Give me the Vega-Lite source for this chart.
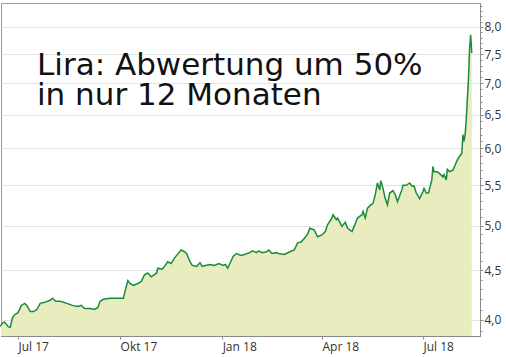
{
  "$schema": "https://vega.github.io/schema/vega-lite/v6.json",
  "width": 479,
  "height": 333,
  "autosize": {"type": "none"},
  "padding": {"left": 1, "top": 3, "right": 26, "bottom": 21},
  "background": "white",
  "config": {
    "view": {"stroke": "#9a9a9a", "strokeWidth": 1},
    "axis": {"labelFont": "Open Sans", "labelFontSize": 12, "labelColor": "#333333", "domainColor": "#8a8a8a", "tickColor": "#8a8a8a"}
  },
  "title": {
    "text": ["Lira: Abwertung um 50%", "in nur 12 Monaten"],
    "anchor": "start",
    "frame": "group",
    "font": "DejaVu Sans",
    "fontSize": 31,
    "fontWeight": "normal",
    "color": "#111111",
    "lineHeight": 30,
    "offset": 0,
    "baseline": "top",
    "dx": 36,
    "dy": 109
  },
  "data": {"values": [
    {"date": "2017-06-15", "v": 3.94}, {"date": "2017-06-17", "v": 3.97}, {"date": "2017-06-19", "v": 3.98},
    {"date": "2017-06-22", "v": 3.94}, {"date": "2017-06-24", "v": 3.93}, {"date": "2017-06-26", "v": 4.02},
    {"date": "2017-06-28", "v": 4.05}, {"date": "2017-07-01", "v": 4.07}, {"date": "2017-07-04", "v": 4.14},
    {"date": "2017-07-07", "v": 4.16}, {"date": "2017-07-09", "v": 4.14}, {"date": "2017-07-12", "v": 4.08},
    {"date": "2017-07-15", "v": 4.08}, {"date": "2017-07-18", "v": 4.10}, {"date": "2017-07-21", "v": 4.16},
    {"date": "2017-07-25", "v": 4.17}, {"date": "2017-07-30", "v": 4.19}, {"date": "2017-08-01", "v": 4.21},
    {"date": "2017-08-04", "v": 4.18}, {"date": "2017-08-08", "v": 4.18}, {"date": "2017-08-14", "v": 4.16},
    {"date": "2017-08-19", "v": 4.14}, {"date": "2017-08-24", "v": 4.13}, {"date": "2017-08-27", "v": 4.14},
    {"date": "2017-08-30", "v": 4.11}, {"date": "2017-09-04", "v": 4.11}, {"date": "2017-09-08", "v": 4.10},
    {"date": "2017-09-11", "v": 4.12}, {"date": "2017-09-13", "v": 4.18}, {"date": "2017-09-16", "v": 4.20},
    {"date": "2017-09-22", "v": 4.21}, {"date": "2017-09-29", "v": 4.21}, {"date": "2017-10-04", "v": 4.21},
    {"date": "2017-10-05", "v": 4.26}, {"date": "2017-10-08", "v": 4.39}, {"date": "2017-10-10", "v": 4.36},
    {"date": "2017-10-13", "v": 4.34}, {"date": "2017-10-17", "v": 4.36}, {"date": "2017-10-20", "v": 4.38},
    {"date": "2017-10-23", "v": 4.45}, {"date": "2017-10-26", "v": 4.47}, {"date": "2017-10-29", "v": 4.43},
    {"date": "2017-11-03", "v": 4.47}, {"date": "2017-11-04", "v": 4.52}, {"date": "2017-11-08", "v": 4.51},
    {"date": "2017-11-10", "v": 4.54}, {"date": "2017-11-13", "v": 4.59}, {"date": "2017-11-16", "v": 4.57},
    {"date": "2017-11-19", "v": 4.63}, {"date": "2017-11-23", "v": 4.69}, {"date": "2017-11-25", "v": 4.72},
    {"date": "2017-11-28", "v": 4.70}, {"date": "2017-11-30", "v": 4.68}, {"date": "2017-12-03", "v": 4.59},
    {"date": "2017-12-05", "v": 4.55}, {"date": "2017-12-09", "v": 4.54}, {"date": "2017-12-12", "v": 4.58},
    {"date": "2017-12-14", "v": 4.54}, {"date": "2017-12-17", "v": 4.55}, {"date": "2017-12-21", "v": 4.56},
    {"date": "2017-12-25", "v": 4.55}, {"date": "2017-12-29", "v": 4.57}, {"date": "2018-01-02", "v": 4.55},
    {"date": "2018-01-04", "v": 4.56}, {"date": "2018-01-06", "v": 4.52}, {"date": "2018-01-11", "v": 4.65},
    {"date": "2018-01-14", "v": 4.68}, {"date": "2018-01-18", "v": 4.66}, {"date": "2018-01-21", "v": 4.67},
    {"date": "2018-01-26", "v": 4.69}, {"date": "2018-01-28", "v": 4.71}, {"date": "2018-02-01", "v": 4.69},
    {"date": "2018-02-03", "v": 4.71}, {"date": "2018-02-06", "v": 4.69}, {"date": "2018-02-10", "v": 4.70},
    {"date": "2018-02-12", "v": 4.72}, {"date": "2018-02-15", "v": 4.68}, {"date": "2018-02-19", "v": 4.69},
    {"date": "2018-02-21", "v": 4.68}, {"date": "2018-02-26", "v": 4.67}, {"date": "2018-03-03", "v": 4.70},
    {"date": "2018-03-07", "v": 4.72}, {"date": "2018-03-10", "v": 4.80}, {"date": "2018-03-13", "v": 4.81},
    {"date": "2018-03-16", "v": 4.85}, {"date": "2018-03-19", "v": 4.90}, {"date": "2018-03-21", "v": 4.97},
    {"date": "2018-03-23", "v": 4.96}, {"date": "2018-03-25", "v": 4.95}, {"date": "2018-03-28", "v": 4.87},
    {"date": "2018-04-01", "v": 4.89}, {"date": "2018-04-04", "v": 4.93}, {"date": "2018-04-06", "v": 5.01},
    {"date": "2018-04-10", "v": 5.09}, {"date": "2018-04-11", "v": 5.13}, {"date": "2018-04-14", "v": 5.07},
    {"date": "2018-04-15", "v": 5.09}, {"date": "2018-04-19", "v": 4.99}, {"date": "2018-04-22", "v": 5.04},
    {"date": "2018-04-24", "v": 4.97}, {"date": "2018-04-28", "v": 4.93}, {"date": "2018-04-30", "v": 4.99},
    {"date": "2018-05-03", "v": 5.09}, {"date": "2018-05-07", "v": 5.13}, {"date": "2018-05-08", "v": 5.17},
    {"date": "2018-05-10", "v": 5.09}, {"date": "2018-05-12", "v": 5.21}, {"date": "2018-05-15", "v": 5.25},
    {"date": "2018-05-17", "v": 5.27}, {"date": "2018-05-19", "v": 5.38}, {"date": "2018-05-21", "v": 5.53},
    {"date": "2018-05-23", "v": 5.44}, {"date": "2018-05-24", "v": 5.56}, {"date": "2018-05-26", "v": 5.46},
    {"date": "2018-05-28", "v": 5.33}, {"date": "2018-05-30", "v": 5.25}, {"date": "2018-06-01", "v": 5.40},
    {"date": "2018-06-04", "v": 5.43}, {"date": "2018-06-06", "v": 5.38}, {"date": "2018-06-08", "v": 5.29},
    {"date": "2018-06-12", "v": 5.44}, {"date": "2018-06-13", "v": 5.50}, {"date": "2018-06-16", "v": 5.50},
    {"date": "2018-06-19", "v": 5.53}, {"date": "2018-06-21", "v": 5.49}, {"date": "2018-06-23", "v": 5.49},
    {"date": "2018-06-25", "v": 5.40}, {"date": "2018-06-28", "v": 5.33}, {"date": "2018-07-01", "v": 5.42},
    {"date": "2018-07-02", "v": 5.46}, {"date": "2018-07-04", "v": 5.40}, {"date": "2018-07-06", "v": 5.40},
    {"date": "2018-07-09", "v": 5.57}, {"date": "2018-07-10", "v": 5.75}, {"date": "2018-07-11", "v": 5.68},
    {"date": "2018-07-14", "v": 5.68}, {"date": "2018-07-17", "v": 5.64}, {"date": "2018-07-19", "v": 5.61},
    {"date": "2018-07-20", "v": 5.64}, {"date": "2018-07-22", "v": 5.57}, {"date": "2018-07-23", "v": 5.71},
    {"date": "2018-07-25", "v": 5.68}, {"date": "2018-07-28", "v": 5.70}, {"date": "2018-07-30", "v": 5.77},
    {"date": "2018-08-01", "v": 5.84}, {"date": "2018-08-03", "v": 5.89}, {"date": "2018-08-05", "v": 5.93},
    {"date": "2018-08-06", "v": 6.20}, {"date": "2018-08-07", "v": 6.10}, {"date": "2018-08-08", "v": 6.20},
    {"date": "2018-08-09", "v": 6.42}, {"date": "2018-08-11", "v": 7.06}, {"date": "2018-08-12", "v": 7.57},
    {"date": "2018-08-13", "v": 7.85}, {"date": "2018-08-14", "v": 7.52}
  ]},
  "encoding": {
    "x": {
      "field": "date",
      "type": "temporal",
      "scale": {
        "type": "utc",
        "domain": [
          {"year": 2017, "month": 6, "date": 15, "hours": 16, "utc": true},
          {"year": 2018, "month": 8, "date": 21, "hours": 10, "utc": true}
        ]
      },
      "axis": {
        "title": null,
        "grid": false,
        "values": [
          {"year": 2017, "month": 7, "date": 1, "utc": true},
          {"year": 2017, "month": 10, "date": 1, "utc": true},
          {"year": 2018, "month": 1, "date": 1, "utc": true},
          {"year": 2018, "month": 4, "date": 1, "utc": true},
          {"year": 2018, "month": 7, "date": 1, "utc": true}
        ],
        "labelExpr": "['Jan','Feb','Mär','Apr','Mai','Jun','Jul','Aug','Sep','Okt','Nov','Dez'][utcmonth(datum.value)] + ' ' + utcFormat(datum.value, '%y')",
        "labelAlign": "left",
        "labelBaseline": "top",
        "labelPadding": 2,
        "labelFlush": false,
        "labelOverlap": false,
        "tickSize": 3
      }
    }
  },
  "layer": [
    {
      "mark": {"type": "area", "color": "#e9ecbf", "clip": true},
      "encoding": {
        "y": {
          "field": "v",
          "type": "quantitative",
          "scale": {"type": "log", "domain": [3.851, 8.463], "nice": false, "zero": false},
          "axis": {
            "orient": "right",
            "title": null,
            "values": [4, 4.5, 5, 5.5, 6, 6.5, 7, 7.5, 8],
            "labelExpr": "replace(format(datum.value, '.1f'), '.', ',')",
            "grid": true,
            "gridColor": "#e3e3e3",
            "tickSize": 3,
            "labelPadding": 1,
            "labelOverlap": false,
            "labelFlush": false
          }
        },
        "y2": {"datum": 3.851}
      }
    },
    {
      "mark": {"type": "line", "color": "#1b8a3a", "strokeWidth": 1.5},
      "encoding": {
        "y": {
          "field": "v",
          "type": "quantitative",
          "axis": {
            "orient": "right",
            "title": null,
            "labels": false,
            "grid": false,
            "domain": false,
            "tickSize": 2,
            "values": [3.9, 4.1, 4.2, 4.3, 4.4, 4.6, 4.7, 4.8, 4.9, 5.1, 5.2, 5.3, 5.4, 5.6, 5.7, 5.8, 5.9, 6.1, 6.2, 6.3, 6.4, 6.6, 6.7, 6.8, 6.9, 7.1, 7.2, 7.3, 7.4, 7.6, 7.7, 7.8, 7.9, 8.1, 8.2, 8.3, 8.4]
          }
        }
      }
    }
  ],
  "resolve": {"axis": {"y": "independent"}}
}
